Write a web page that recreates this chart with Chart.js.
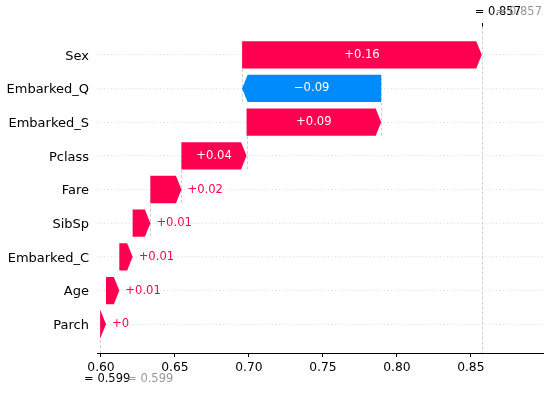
<!DOCTYPE html>
<html><head><meta charset="utf-8">
<script src="https://cdn.jsdelivr.net/npm/chart.js@4/dist/chart.umd.min.js"></script>
<style>html,body{margin:0;padding:0;background:#fff}#wrap{width:550px;height:396px}</style>
</head><body><div id="wrap"><canvas id="c" width="550" height="396"></canvas></div>
<script>
// ---- data (top row first) ----
const features = ['Sex','Embarked_Q','Embarked_S','Pclass','Fare','SibSp','Embarked_C','Age','Parch'];
const shapValues = [0.162,-0.094,0.091,0.044,0.021,0.012,0.009,0.009,0.004];
const valueLabels = ['+0.16','\u22120.09','+0.09','+0.04','+0.02','+0.01','+0.01','+0.01','+0'];
const baseValue = 0.5994;
const xTicks = [0.60,0.65,0.70,0.75,0.80,0.85];

const POS = '#ff0051', NEG = '#008bfb', LINE = '#cfcfcf';
const FONT = 'DejaVu Sans';
const n = features.length;
const starts = [], ends = [];
let acc = baseValue;
for (let i = n - 1; i >= 0; i--) { starts[i] = acc; acc += shapValues[i]; ends[i] = acc; }
const fx = acc;
const barData = features.map((f, i) => ({ y: n - 1 - i, x: [starts[i], ends[i]] }));

Chart.defaults.font.family = FONT;

const waterfall = {
  id: 'waterfall',
  beforeDatasetsDraw(chart) {
    const { ctx, chartArea: a, scales: { x, y } } = chart;
    ctx.save();
    ctx.strokeStyle = LINE; ctx.lineWidth = 1; ctx.setLineDash([3, 2]);
    const vline = (px, y0, y1) => { px = Math.round(px) + 0.5; ctx.beginPath(); ctx.moveTo(px, y0); ctx.lineTo(px, y1); ctx.stroke(); };
    for (let i = 0; i + 4 < n; i++) {
      const row = n - 1 - i;
      vline(x.getPixelForValue(starts[i]), y.getPixelForValue(row - 1 - 0.4), y.getPixelForValue(row + 0.4));
    }
    vline(x.getPixelForValue(baseValue), a.bottom, a.bottom - (a.bottom - a.top) / n);
    vline(x.getPixelForValue(fx), a.top, a.bottom);
    ctx.restore();
  },
  afterDatasetsDraw(chart) {
    const { ctx } = chart;
    const meta = chart.getDatasetMeta(0);
    ctx.save();
    ctx.font = '11.6px "' + FONT + '"';
    ctx.textBaseline = 'middle';
    meta.data.forEach((el, i) => {
      const p = el.getProps(['x', 'base', 'y', 'height'], true);
      const lo = Math.min(p.x, p.base), hi = Math.max(p.x, p.base);
      const dir = shapValues[i] >= 0 ? 1 : -1;
      const tip = dir > 0 ? hi : lo, base = dir > 0 ? lo : hi;
      const cy = p.y, hh = p.height / 2;
      const w = hi - lo;
      const head = Math.min(5.5, w);
      const col = dir > 0 ? POS : NEG;
      ctx.fillStyle = col;
      ctx.beginPath();
      ctx.moveTo(base, cy - hh);
      ctx.lineTo(tip - dir * head, cy - hh);
      ctx.lineTo(tip, cy);
      ctx.lineTo(tip - dir * head, cy + hh);
      ctx.lineTo(base, cy + hh);
      ctx.closePath();
      ctx.fill();
      const txt = valueLabels[i];
      const tw = ctx.measureText(txt).width;
      if (tw + 8 < w - head) {
        ctx.fillStyle = '#fff'; ctx.textAlign = 'center';
        ctx.fillText(txt, (tip + base) / 2, cy);
      } else {
        ctx.fillStyle = col; ctx.textAlign = dir > 0 ? 'left' : 'right';
        ctx.fillText(txt, tip + dir * 6, cy);
      }
    });
    ctx.restore();
  },
  afterDraw(chart) {
    const { ctx, chartArea: a, scales: { x } } = chart;
    ctx.save();
    const pf = x.getPixelForValue(fx), pb = x.getPixelForValue(baseValue);
    ctx.strokeStyle = '#000'; ctx.lineWidth = 1;
    ctx.beginPath(); ctx.moveTo(Math.round(pf) + 0.5, a.top - 3.5); ctx.lineTo(Math.round(pf) + 0.5, a.top); ctx.stroke();
    ctx.font = '11.5px "' + FONT + '"';
    ctx.textBaseline = 'middle'; ctx.textAlign = 'left';
    const fxT = '= ' + fx.toFixed(3), bT = '= ' + baseValue.toFixed(3);
    ctx.fillStyle = '#000'; ctx.fillText(fxT, pf - 7, 12.5);
    ctx.fillStyle = '#999999'; ctx.fillText(fxT, pf + 14, 12.5);
    ctx.fillStyle = '#000'; ctx.fillText(bT, pb - 16, 379.5);
    ctx.fillStyle = '#999999'; ctx.fillText(bT, pb + 27, 379.5);
    ctx.restore();
  }
};

new Chart(document.getElementById('c'), {
  type: 'bar',
  data: { datasets: [{ data: barData, backgroundColor: 'rgba(0,0,0,0)', borderWidth: 0, categoryPercentage: 0.81, barPercentage: 1 }] },
  options: {
    indexAxis: 'y', responsive: false, animation: false, devicePixelRatio: 1,
    layout: { padding: { top: 26.5, right: 6.7, left: 0, bottom: 0 } },
    plugins: { legend: { display: false }, tooltip: { enabled: false } },
    scales: {
      x: {
        type: 'linear', min: 0.5973, max: 0.899,
        afterBuildTicks: s => { s.ticks = xTicks.map(v => ({ value: v })); },
        afterFit: s => { s.height = 43; },
        ticks: { callback: v => Number(v).toFixed(2), color: '#000', font: { size: 12.3 }, padding: 3, maxRotation: 0, autoSkip: false },
        grid: { drawOnChartArea: false, drawTicks: true, tickLength: 4, color: '#000', tickColor: '#000' },
        border: { display: true, color: '#000', width: 1 }
      },
      y: {
        type: 'linear', min: -0.855, max: 8.84, offset: false,
        afterBuildTicks: s => { s.ticks = features.map((f, i) => ({ value: i })); },
        afterFit: s => { s.width = 97; },
        ticks: { callback: v => features[n - 1 - v], color: '#000', font: { size: 13 }, padding: 8, labelOffset: 1.5, autoSkip: false },
        grid: { offset: false, drawTicks: false, color: '#dcdcdc', lineWidth: 1 },
        border: { display: false, dash: [1, 2.5] }
      }
    }
  },
  plugins: [waterfall]
});
</script></body></html>
